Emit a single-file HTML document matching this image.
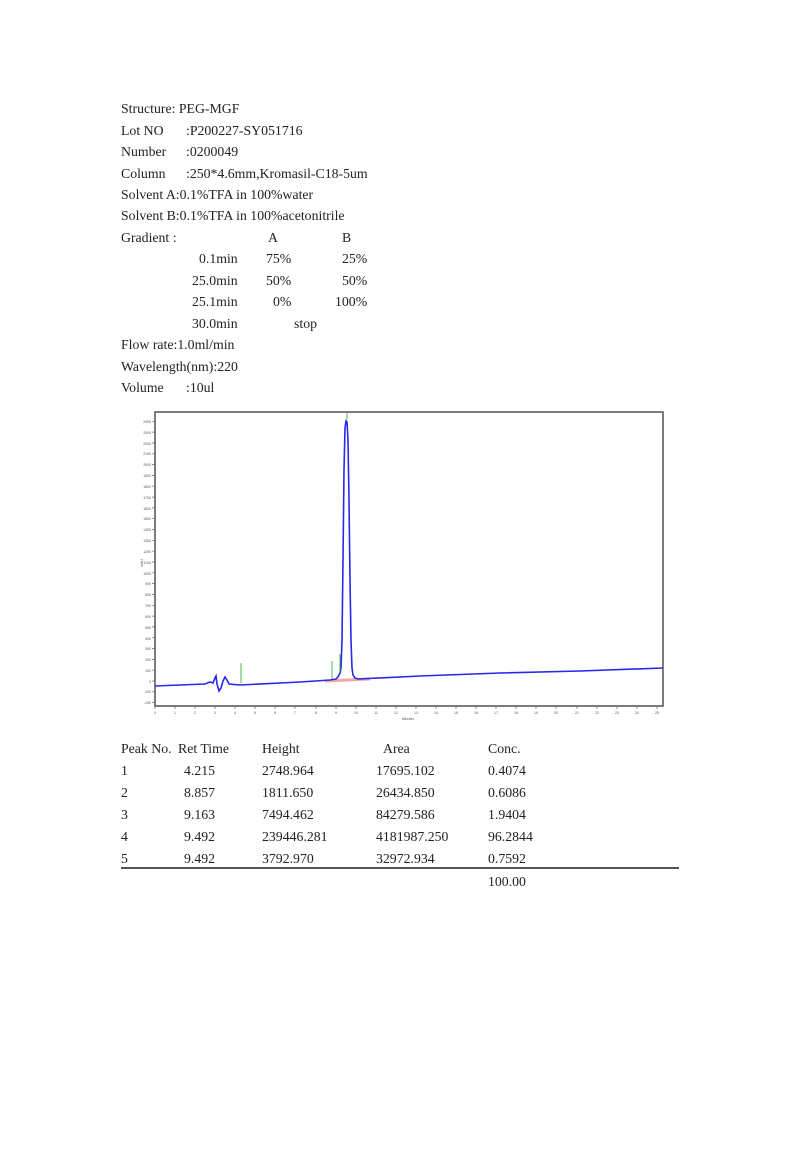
<!DOCTYPE html>
<html><head><meta charset="utf-8"><style>
body{margin:0;background:#fff;width:800px;height:1150px;position:relative;font-family:"Liberation Serif",serif;font-size:13.8px;color:#222}
.t{position:absolute;white-space:nowrap;line-height:14px}
</style></head><body>
<div class="t" style="left:121px;top:102px">Structure: PEG-MGF</div>
<div class="t" style="left:121px;top:124px">Lot NO</div><div class="t" style="left:186px;top:124px">:P200227-SY051716</div>
<div class="t" style="left:121px;top:145px">Number</div><div class="t" style="left:186px;top:145px">:0200049</div>
<div class="t" style="left:121px;top:167px">Column</div><div class="t" style="left:186px;top:167px">:250*4.6mm,Kromasil-C18-5um</div>
<div class="t" style="left:121px;top:188px">Solvent A:0.1%TFA in 100%water</div>
<div class="t" style="left:121px;top:209px">Solvent B:0.1%TFA in 100%acetonitrile</div>
<div class="t" style="left:121px;top:231px">Gradient :</div><div class="t" style="left:268px;top:231px">A</div><div class="t" style="left:342px;top:231px">B</div>
<div class="t" style="left:199px;top:252px">0.1min</div><div class="t" style="left:266px;top:252px">75%</div><div class="t" style="left:342px;top:252px">25%</div>
<div class="t" style="left:192px;top:274px">25.0min</div><div class="t" style="left:266px;top:274px">50%</div><div class="t" style="left:342px;top:274px">50%</div>
<div class="t" style="left:192px;top:295px">25.1min</div><div class="t" style="left:273px;top:295px">0%</div><div class="t" style="left:335px;top:295px">100%</div>
<div class="t" style="left:192px;top:317px">30.0min</div><div class="t" style="left:294px;top:317px">stop</div>
<div class="t" style="left:121px;top:338px">Flow rate:1.0ml/min</div>
<div class="t" style="left:121px;top:360px">Wavelength(nm):220</div>
<div class="t" style="left:121px;top:381px">Volume</div><div class="t" style="left:186px;top:381px">:10ul</div>

<svg style="position:absolute;left:0;top:0" width="800" height="1150">
<rect x="155" y="412" width="508" height="294" fill="none" stroke="#444" stroke-width="1.4"/>
<g stroke="#666" stroke-width="0.7">
<path d="M155,702.6h-3M155,691.8h-3M155,681h-3M155,670.2h-3M155,659.4h-3M155,648.5h-3M155,637.7h-3M155,626.9h-3M155,616.1h-3M155,605.3h-3M155,594.4h-3M155,583.6h-3M155,572.8h-3M155,562h-3M155,551.2h-3M155,540.3h-3M155,529.5h-3M155,518.7h-3M155,507.9h-3M155,497.1h-3M155,486.2h-3M155,475.4h-3M155,464.6h-3M155,453.8h-3M155,443h-3M155,432.1h-3M155,421.3h-3"/>
<path d="M155,706v3M175,706v3M195,706v3M215,706v3M235,706v3M255,706v3M275,706v3M295,706v3M316,706v3M336,706v3M356,706v3M376,706v3M396,706v3M416,706v3M436,706v3M456,706v3M476,706v3M496,706v3M516,706v3M536,706v3M556,706v3M577,706v3M597,706v3M617,706v3M637,706v3M657,706v3"/>
</g>
<g font-family="Liberation Sans" font-size="3.5" fill="#555" text-anchor="end">
<text x="151" y="704">-200</text><text x="151" y="693">-100</text><text x="151" y="683">0</text><text x="151" y="672">100</text><text x="151" y="661">200</text><text x="151" y="650">300</text><text x="151" y="640">400</text><text x="151" y="629">500</text><text x="151" y="618">600</text><text x="151" y="607">700</text><text x="151" y="596">800</text><text x="151" y="585">900</text><text x="151" y="575">1000</text><text x="151" y="564">1100</text><text x="151" y="553">1200</text><text x="151" y="542">1300</text><text x="151" y="531">1400</text><text x="151" y="520">1500</text><text x="151" y="510">1600</text><text x="151" y="499">1700</text><text x="151" y="488">1800</text><text x="151" y="477">1900</text><text x="151" y="466">2000</text><text x="151" y="455">2100</text><text x="151" y="445">2200</text><text x="151" y="434">2300</text><text x="151" y="423">2400</text>
</g>
<g font-family="Liberation Sans" font-size="3.5" fill="#555" text-anchor="middle">
<text x="155" y="714">0</text><text x="175" y="714">1</text><text x="195" y="714">2</text><text x="215" y="714">3</text><text x="235" y="714">4</text><text x="255" y="714">5</text><text x="275" y="714">6</text><text x="295" y="714">7</text><text x="316" y="714">8</text><text x="336" y="714">9</text><text x="356" y="714">10</text><text x="376" y="714">11</text><text x="396" y="714">12</text><text x="416" y="714">13</text><text x="436" y="714">14</text><text x="456" y="714">15</text><text x="476" y="714">16</text><text x="496" y="714">17</text><text x="516" y="714">18</text><text x="536" y="714">19</text><text x="556" y="714">20</text><text x="577" y="714">21</text><text x="597" y="714">22</text><text x="617" y="714">23</text><text x="637" y="714">24</text><text x="657" y="714">25</text>
<text x="408" y="720">Minutes</text>
<text x="0" y="0" transform="translate(143,563) rotate(-90)">mAU</text>
</g>
<path d="M325,681L370,679" stroke="#f08080" stroke-width="3" opacity="0.7"/>
<path d="M155,686L205,684L210,682L213,683L215,678L216,676L217,684L219,691L221,688L223,681L225,677L227,680L229,684L240,685L300,682L330,680L336,679L338,677L340,673L341,668L342,640L343,560L344,470L345,428L346,421L347,422L348,440L349,500L350,580L351,640L352,668L353,675L355,678L358,679L420,676L500,673L580,671L663,668" fill="none" stroke="#2828f0" stroke-width="1.6"/>
<g stroke="#2a2" stroke-width="0.8"><path d="M241,683v-20M332,679v-18M340,672v-18M347,420v-8"/></g>
</svg>

<div class="t" style="left:121px;top:742px">Peak No.</div><div class="t" style="left:178px;top:742px">Ret Time</div><div class="t" style="left:262px;top:742px">Height</div><div class="t" style="left:383px;top:742px">Area</div><div class="t" style="left:488px;top:742px">Conc.</div>
<div class="t" style="left:121px;top:764px">1</div><div class="t" style="left:184px;top:764px">4.215</div><div class="t" style="left:262px;top:764px">2748.964</div><div class="t" style="left:376px;top:764px">17695.102</div><div class="t" style="left:488px;top:764px">0.4074</div>
<div class="t" style="left:121px;top:786px">2</div><div class="t" style="left:184px;top:786px">8.857</div><div class="t" style="left:262px;top:786px">1811.650</div><div class="t" style="left:376px;top:786px">26434.850</div><div class="t" style="left:488px;top:786px">0.6086</div>
<div class="t" style="left:121px;top:808px">3</div><div class="t" style="left:184px;top:808px">9.163</div><div class="t" style="left:262px;top:808px">7494.462</div><div class="t" style="left:376px;top:808px">84279.586</div><div class="t" style="left:488px;top:808px">1.9404</div>
<div class="t" style="left:121px;top:830px">4</div><div class="t" style="left:184px;top:830px">9.492</div><div class="t" style="left:262px;top:830px">239446.281</div><div class="t" style="left:376px;top:830px">4181987.250</div><div class="t" style="left:488px;top:830px">96.2844</div>
<div class="t" style="left:121px;top:852px">5</div><div class="t" style="left:184px;top:852px">9.492</div><div class="t" style="left:262px;top:852px">3792.970</div><div class="t" style="left:376px;top:852px">32972.934</div><div class="t" style="left:488px;top:852px">0.7592</div>
<div style="position:absolute;left:121px;top:867px;width:558px;height:2px;background:#555"></div>
<div class="t" style="left:488px;top:875px">100.00</div>
</body></html>
